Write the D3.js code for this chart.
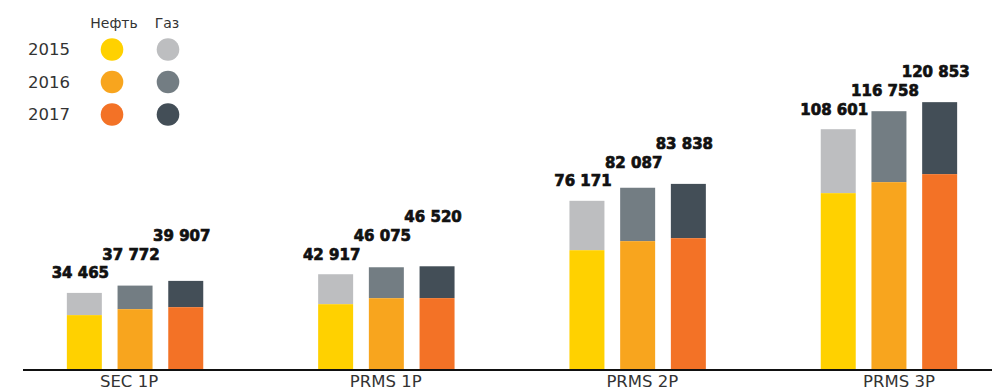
<!DOCTYPE html>
<html><head><meta charset="utf-8">
<script src="https://cdn.jsdelivr.net/npm/d3@7"></script>
<style>
html,body{margin:0;padding:0;background:#fff;}
svg{display:block;}
</style></head>
<body>
<svg id="chart" width="992" height="390"></svg>
<script>
const categories = ["SEC 1P", "PRMS 1P", "PRMS 2P", "PRMS 3P"];
const years = ["2015", "2016", "2017"];
const totals = [
  [34465, 37772, 39907],
  [42917, 46075, 46520],
  [76171, 82087, 83838],
  [108601, 116758, 120853]
];
const oil = [
  [24400, 27100, 28000],
  [29350, 32070, 32100],
  [53800, 57900, 59250],
  [79640, 84620, 88250]
];
const totalLabels = [
  ["34 465", "37 772", "39 907"],
  ["42 917", "46 075", "46 520"],
  ["76 171", "82 087", "83 838"],
  ["108 601", "116 758", "120 853"]
];
const legendHeaders = ["Нефть", "Газ"];
const oilColors = ["#FFD100", "#F8A51E", "#F37226"];
const gasColors = ["#BDBEC0", "#737D83", "#434E57"];

const svg = d3.select("#chart");
const x = d3.scaleBand().domain(categories).range([9.4, 1014.6]).padding(0);
const xLabel = d3.scaleBand().domain(categories).range([0.7, 1027.3]).padding(0);
const xi = d3.scaleBand().domain(years).range([-68.2, 68.2]).paddingInner(0.31).paddingOuter(0);
const y = d3.scaleLinear().domain([0, 125000]).range([369, 93]);

const data = [];
categories.forEach((c, gi) => years.forEach((yr, i) => {
  data.push({c, gi, yr, i, total: totals[gi][i], oil: oil[gi][i], label: totalLabels[gi][i]});
}));

const gx = c => x(c) + x.bandwidth() / 2;

// gas (top segments)
svg.append("g").selectAll("rect").data(data).join("rect")
  .attr("x", d => gx(d.c) + xi(d.yr))
  .attr("width", xi.bandwidth())
  .attr("y", d => y(d.total))
  .attr("height", d => y(d.oil) - y(d.total))
  .attr("fill", d => gasColors[d.i]);
// oil (bottom segments)
svg.append("g").selectAll("rect").data(data).join("rect")
  .attr("x", d => gx(d.c) + xi(d.yr))
  .attr("width", xi.bandwidth())
  .attr("y", d => y(d.oil))
  .attr("height", d => y(0) - y(d.oil))
  .attr("fill", d => oilColors[d.i]);

// value labels (staggered)
svg.append("g").selectAll("text").data(data).join("text")
  .attr("x", d => gx(d.c) + xi(d.yr) + xi.bandwidth() / 2 - 4)
  .attr("y", d => y(totals[d.gi][0]) - 20 - 18.7 * d.i)
  .attr("dy", "0.36em")
  .attr("text-anchor", "middle")
  .attr("font-family", "'DejaVu Sans', sans-serif")
  .attr("font-weight", "bold")
  .attr("font-size", 15)
  .attr("fill", "#111")
  .attr("stroke", "#111")
  .attr("stroke-width", 0.7)
  .text(d => d.label);

// x axis
const axis = d3.axisBottom(xLabel).tickSize(0).tickPadding(5);
const ax = svg.append("g").attr("transform", "translate(0,370)").call(axis);
ax.select(".domain").attr("d", "M23,0H992").attr("stroke", "#111").attr("stroke-width", 2);
ax.selectAll("text")
  .attr("font-family", "'DejaVu Sans', sans-serif")
  .attr("font-size", 16.5)
  .attr("fill", "#333");

// legend
const lg = svg.append("g").attr("font-family", "'DejaVu Sans', sans-serif").attr("fill", "#333");
const colX = [112, 168];
lg.selectAll("text.h").data(legendHeaders).join("text").attr("class", "h")
  .attr("x", (d, i) => colX[i] + (i === 0 ? 2 : -1))
  .attr("y", 23).attr("dy", "0.36em")
  .attr("text-anchor", "middle").attr("font-size", 14).text(d => d);
const rowY = [49.5, 82, 114.5];
lg.selectAll("text.y").data(years).join("text").attr("class", "y")
  .attr("x", 28).attr("y", (d, i) => rowY[i]).attr("dy", "0.36em")
  .attr("font-size", 16.5).text(d => d);
lg.selectAll("circle.o").data(years).join("circle").attr("class", "o")
  .attr("cx", colX[0]).attr("cy", (d, i) => rowY[i]).attr("r", 11.3)
  .attr("fill", (d, i) => oilColors[i]);
lg.selectAll("circle.g").data(years).join("circle").attr("class", "g")
  .attr("cx", colX[1]).attr("cy", (d, i) => rowY[i]).attr("r", 11.3)
  .attr("fill", (d, i) => gasColors[i]);
</script>
</body></html>
